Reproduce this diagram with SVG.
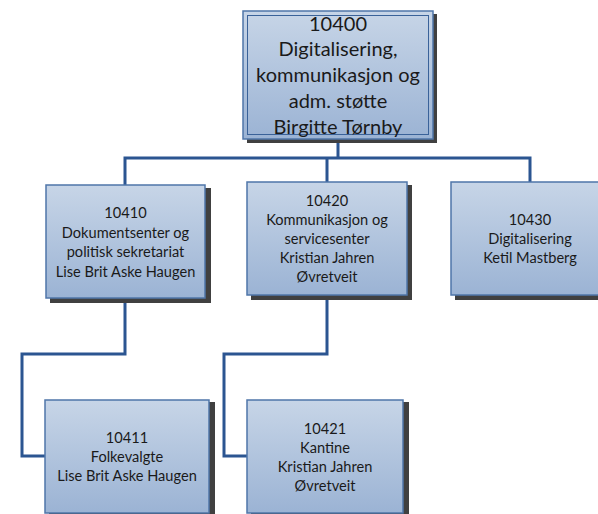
<svg xmlns="http://www.w3.org/2000/svg" width="598" height="514" viewBox="0 0 598 514">
<defs>
<linearGradient id="g" x1="0" y1="0" x2="0" y2="1">
<stop offset="0" stop-color="#c7d5e7"/>
<stop offset="1" stop-color="#9bb3d4"/>
</linearGradient>
</defs>
<style>
.sh{fill:#404040}
.bx{fill:url(#g);stroke:#4f76a9;stroke-width:1.5}
.in{fill:none;stroke:#3a6299;stroke-width:1}
.cn{fill:none;stroke:#2b5591;stroke-width:3}
text{font-family:Lato,"Liberation Sans",sans-serif;fill:#1a1a1a;text-anchor:middle}
.t{font-size:14.6px}
.r{font-size:20px}
</style>
<rect width="598" height="514" fill="#fff"/>
<g id="connectors">
<path class="cn" d="M338 139V158M125 185V158H530V182M327 158V182"/>
<path class="cn" d="M125 298V354H22V456H45"/>
<path class="cn" d="M327 295V354H224V456H247"/>
</g>
<g id="n10400">
<rect class="sh" x="247" y="14" width="190" height="129"/>
<rect class="bx" x="243" y="11" width="190" height="128"/>
<rect class="in" x="247.5" y="15.5" width="181" height="119"/>
<text class="r" x="338"><tspan x="338" y="30.5">10400</tspan><tspan x="338" y="56.25">Digitalisering,</tspan><tspan x="338" y="82">kommunikasjon og</tspan><tspan x="338" y="107.75">adm. støtte</tspan><tspan x="338" y="133.5">Birgitte Tørnby</tspan></text>
</g>
<g id="n10410">
<rect class="sh" x="50" y="188" width="161" height="115"/>
<rect class="bx" x="46" y="185" width="159" height="113"/>
<text class="t"><tspan x="125.5" y="218">10410</tspan><tspan x="125.5" y="237.5">Dokumentsenter og</tspan><tspan x="125.5" y="257">politisk sekretariat</tspan><tspan x="125.5" y="276.5">Lise Brit Aske Haugen</tspan></text>
</g>
<g id="n10420">
<rect class="sh" x="251" y="185" width="161" height="115"/>
<rect class="bx" x="247" y="182" width="160" height="113"/>
<text class="t"><tspan x="327" y="206">10420</tspan><tspan x="327" y="225">Kommunikasjon og</tspan><tspan x="327" y="244">servicesenter</tspan><tspan x="327" y="263">Kristian Jahren</tspan><tspan x="327" y="282">Øvretveit</tspan></text>
</g>
<g id="n10430">
<rect class="sh" x="455" y="185" width="160" height="115"/>
<rect class="bx" x="451" y="182" width="158" height="113"/>
<text class="t"><tspan x="530" y="225">10430</tspan><tspan x="530" y="244">Digitalisering</tspan><tspan x="530" y="263">Ketil Mastberg</tspan></text>
</g>
<g id="n10411">
<rect class="sh" x="49" y="402" width="166" height="115"/>
<rect class="bx" x="45" y="400" width="164" height="113"/>
<text class="t"><tspan x="127" y="443">10411</tspan><tspan x="127" y="462">Folkevalgte</tspan><tspan x="127" y="481">Lise Brit Aske Haugen</tspan></text>
</g>
<g id="n10421">
<rect class="sh" x="251" y="402" width="158" height="115"/>
<rect class="bx" x="247" y="400" width="156" height="113"/>
<text class="t"><tspan x="325" y="433.5">10421</tspan><tspan x="325" y="452.5">Kantine</tspan><tspan x="325" y="471.5">Kristian Jahren</tspan><tspan x="325" y="490.5">Øvretveit</tspan></text>
</g>
</svg>
